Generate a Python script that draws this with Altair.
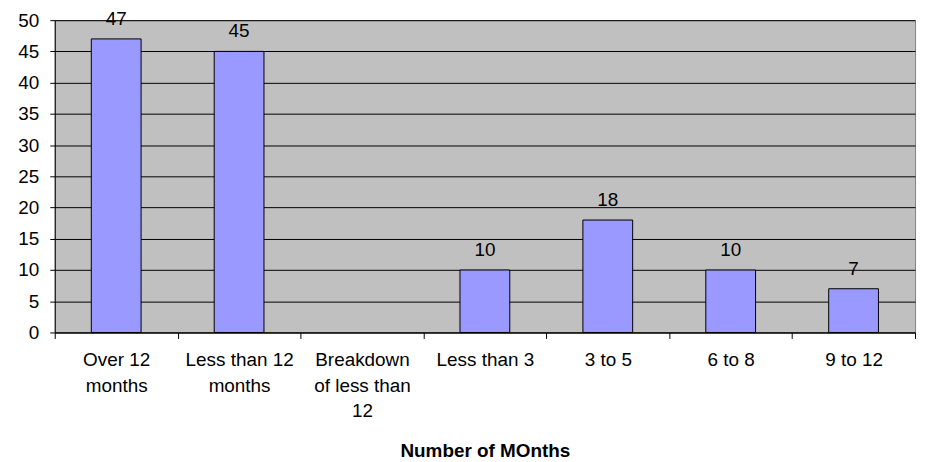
import altair as alt
import pandas as pd

categories = ["Over 12|months", "Less than 12|months", "Breakdown|of less than|12",
              "Less than 3", "3 to 5", "6 to 8", "9 to 12"]
values = [47, 45, None, 10, 18, 10, 7]
y_ticks = [0, 5, 10, 15, 20, 25, 30, 35, 40, 45, 50]
x_title = "Number of MOnths"

df = pd.DataFrame({"cat": categories, "value": values})

FONT = "Liberation Sans"

x_enc = alt.X(
    "cat:N",
    sort=categories,
    scale=alt.Scale(domain=categories, paddingInner=0, paddingOuter=0),
    axis=alt.Axis(
        title=x_title,
        labelExpr="split(datum.label, '|')",
        labelAngle=0,
        labelFont=FONT,
        labelFontSize=19,
        labelLineHeight=26,
        labelColor="black",
        labelPadding=12,
        tickBand="extent",
        tickSize=6,
        tickColor="black",
        domainColor="black",
        titleFont=FONT,
        titleFontSize=19,
        titleFontWeight="bold",
        titleColor="black",
        titleBaseline="alphabetic",
        titleY=125,
        grid=False,
    ),
)

y_enc = alt.Y(
    "value:Q",
    scale=alt.Scale(domain=[0, 50], nice=False),
    axis=alt.Axis(
        title=None,
        values=y_ticks,
        labelOverlap=False,
        labelFont=FONT,
        labelFontSize=19,
        labelColor="black",
        labelPadding=11,
        tickSize=5,
        tickColor="black",
        domainColor="black",
        gridColor="black",
        gridOpacity=1,
    ),
)

base = alt.Chart(df).encode(x=x_enc, y=y_enc)

bars = base.mark_bar(
    color="#9999FF", stroke="black", strokeWidth=1, width={"band": 0.405}
)

text = base.mark_text(
    dy=-14, baseline="alphabetic", fontSize=19, font=FONT, color="black"
).encode(text=alt.Text("value:Q"))

chart = (
    alt.layer(bars, text)
    .properties(
        width=865,
        height=314,
        autosize=alt.AutoSizeParams(type="none"),
        padding={"left": 47, "top": 11, "right": 5, "bottom": 129},
        background="white",
    )
    .configure_view(fill="#C0C0C0", stroke="#808080", strokeWidth=1)
)

chart.save("out.html", embed_options={"renderer": "svg", "actions": False})
